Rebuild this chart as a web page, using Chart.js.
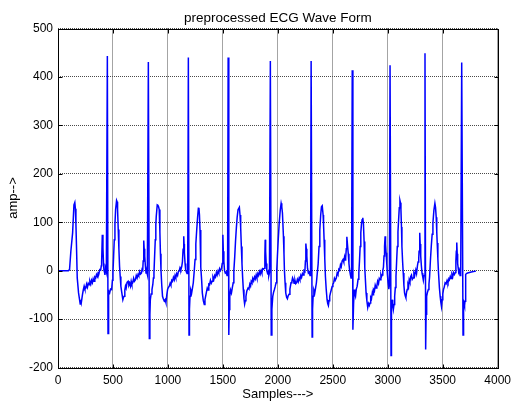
<!DOCTYPE html>
<html>
<head>
<meta charset="utf-8">
<script src="https://cdn.jsdelivr.net/npm/chart.js@4"></script>
<style>
  html, body { margin: 0; padding: 0; background: #ffffff; }
  canvas { display: block; }
</style>
</head>
<body>
<canvas id="ecg" width="517" height="406"></canvas>
<script>
// tick labels
const xTickValues = [0, 500, 1000, 1500, 2000, 2500, 3000, 3500, 4000];
const yTickValues = [-200, -100, 0, 100, 200, 300, 400, 500];

// [sample, amplitude], one array per beat
const leadIn = [[0,0],[95,0],[105,2],[117,40],[133,78],[145,136],[153,141],[158,128],[163,97],[169,43],[175,-15],[187,-46],[202,-69],[207,-60],[212,-66],[223,-49],[230,-40],[238,-32],[245,-38],[253,-36],[260,-28],[268,-34],[275,-26],[283,-29],[290,-22],[298,-28],[305,-20],[313,-25],[320,-17],[328,-22],[335,-13],[343,-15],[350,-8],[358,-12],[365,-4],[373,-5],[380,2],[388,1],[394,10],[397,18],[403,74],[409,47],[414,15],[418,1],[424,-4],[427,-9],[433,5],[440,-2]];
const beat1 = [[449,443],[455,-130],[458,-53],[463,-42],[470,-46],[478,-38],[488,-39],[495,-20],[500,-5],[506,30],[512,64],[518,95],[524,126],[533,145],[538,142],[542,126],[548,85],[554,45],[560,9],[566,-12],[572,-32],[580,-45],[590,-60],[596,-55],[602,-53],[608,-40],[614,-32],[620,-36],[628,-24],[638,-22],[645,-30],[652,-26],[659,-32],[666,-22],[672,-28],[680,-25],[688,-16],[695,-22],[704,-19],[712,-10],[720,-15],[728,-8],[735,-11],[742,-2],[750,-7],[759,-5],[765,3],[771,1],[775,20],[780,62],[784,45],[789,30],[795,10],[801,-5],[807,-2],[813,-8]];
const beat2 = [[822,431],[831,-140],[836,-90],[840,-60],[847,-48],[855,-39],[863,-28],[868,-15],[873,-5],[879,30],[885,64],[890,95],[894,112],[903,136],[909,135],[915,132],[921,126],[927,80],[932,35],[937,1],[944,-30],[951,-53],[958,-58],[967,-63],[975,-60],[982,-66],[990,-50],[997,-39],[1004,-35],[1012,-32],[1020,-26],[1027,-30],[1035,-20],[1042,-22],[1050,-14],[1058,-19],[1065,-10],[1072,-15],[1080,-6],[1088,-10],[1095,-2],[1102,-1],[1110,6],[1118,2],[1126,9],[1132,18],[1138,44],[1144,71],[1147,55],[1150,37],[1156,15],[1162,1],[1168,-3],[1174,-6],[1180,-2]];
const beat3 = [[1186,440],[1192,-133],[1196,-80],[1201,-53],[1208,-40],[1216,-46],[1224,-35],[1231,-25],[1239,-2],[1247,23],[1254,55],[1262,84],[1270,110],[1277,129],[1282,130],[1287,115],[1292,84],[1297,45],[1301,7],[1307,-20],[1313,-46],[1322,-62],[1331,-70],[1337,-60],[1343,-53],[1350,-45],[1358,-36],[1365,-40],[1372,-28],[1379,-29],[1387,-20],[1395,-26],[1403,-22],[1410,-13],[1418,-18],[1426,-10],[1433,-13],[1441,-4],[1448,-9],[1456,-1],[1463,-5],[1470,4],[1478,0],[1488,5],[1494,15],[1500,74],[1504,40],[1509,20],[1515,0],[1522,-5],[1530,-3],[1538,-10],[1543,-4]];
const beat4 = [[1548,440],[1554,-133],[1558,-80],[1563,-53],[1570,-40],[1578,-46],[1586,-35],[1594,-25],[1600,0],[1608,29],[1615,60],[1623,89],[1630,110],[1638,126],[1650,131],[1656,115],[1662,89],[1668,50],[1674,14],[1680,-15],[1686,-39],[1692,-58],[1698,-69],[1704,-62],[1710,-53],[1718,-42],[1729,-36],[1737,-38],[1745,-28],[1752,-32],[1758,-22],[1765,-25],[1772,-16],[1780,-21],[1788,-13],[1795,-17],[1803,-9],[1810,-15],[1818,-6],[1825,-10],[1833,-2],[1840,-7],[1848,0],[1855,-5],[1862,4],[1870,3],[1879,5],[1882,30],[1885,64],[1889,40],[1894,15],[1900,0],[1906,-5],[1912,-2],[1918,-10],[1924,-4]];
const beat5 = [[1932,433],[1940,-133],[1946,-80],[1954,-53],[1962,-44],[1969,-39],[1977,-32],[1984,-25],[1990,0],[1996,29],[2004,65],[2012,96],[2022,125],[2030,139],[2036,132],[2042,119],[2051,71],[2056,35],[2060,1],[2066,-25],[2072,-46],[2080,-55],[2087,-58],[2094,-52],[2102,-49],[2110,-38],[2120,-25],[2128,-22],[2134,-15],[2141,-19],[2148,-26],[2156,-20],[2163,-27],[2171,-25],[2178,-18],[2186,-23],[2194,-15],[2201,-19],[2209,-10],[2216,-14],[2224,-6],[2231,-9],[2238,0],[2246,-2],[2251,20],[2255,56],[2259,45],[2264,30],[2270,5],[2278,-5],[2286,-3],[2293,-10],[2298,-4]];
const beat6 = [[2303,433],[2312,-137],[2316,-80],[2321,-53],[2328,-40],[2336,-46],[2344,-35],[2351,-25],[2359,-5],[2367,14],[2375,50],[2382,84],[2390,115],[2397,132],[2404,134],[2412,115],[2416,95],[2421,64],[2427,25],[2433,-12],[2440,-38],[2448,-60],[2454,-68],[2460,-72],[2466,-62],[2472,-53],[2480,-45],[2487,-39],[2494,-33],[2501,-28],[2508,-25],[2515,-16],[2522,-20],[2532,-15],[2540,-5],[2547,-8],[2555,3],[2562,1],[2570,12],[2577,8],[2585,20],[2593,23],[2600,18],[2607,28],[2612,22],[2617,26],[2623,45],[2628,70],[2635,50],[2641,35],[2647,15],[2653,1],[2660,-8],[2666,-15],[2671,-5]];
const beat7 = [[2677,414],[2683,-122],[2689,-70],[2695,-39],[2701,-48],[2707,-53],[2714,-38],[2722,-32],[2730,-18],[2737,-5],[2743,20],[2749,50],[2755,78],[2761,96],[2767,105],[2773,109],[2779,96],[2785,60],[2791,7],[2797,-20],[2803,-46],[2810,-62],[2818,-76],[2825,-68],[2832,-72],[2839,-67],[2845,-55],[2852,-58],[2860,-45],[2866,-50],[2871,-39],[2879,-42],[2886,-30],[2894,-36],[2901,-32],[2908,-22],[2916,-27],[2923,-16],[2931,-19],[2938,-8],[2944,-12],[2949,-9],[2955,0],[2961,7],[2966,30],[2971,50],[2976,71],[2980,55],[2985,37],[2991,15],[2997,-8],[3003,-25],[3010,-38],[3015,-30]];
const beat8 = [[3021,424],[3030,-175],[3034,-80],[3039,-60],[3045,-70],[3051,-80],[3057,-70],[3063,-53],[3069,-35],[3075,-12],[3081,20],[3087,50],[3093,80],[3099,105],[3105,130],[3111,145],[3116,140],[3120,126],[3125,90],[3129,50],[3135,20],[3141,-5],[3147,-30],[3153,-46],[3159,-52],[3165,-56],[3171,-45],[3177,-39],[3184,-28],[3190,-32],[3195,-19],[3202,-24],[3209,-12],[3216,-9],[3223,-18],[3231,-15],[3238,-5],[3245,-10],[3255,1],[3262,-6],[3270,10],[3276,18],[3282,25],[3285,40],[3291,78],[3295,55],[3300,30],[3306,10],[3312,-5],[3318,-12],[3324,-20],[3330,-10]];
const beat9 = [[3339,449],[3345,-163],[3349,-90],[3354,-53],[3361,-45],[3369,-39],[3375,-28],[3381,-12],[3388,20],[3396,50],[3404,75],[3411,98],[3420,125],[3429,139],[3435,130],[3441,110],[3446,80],[3450,57],[3456,25],[3462,-5],[3470,-35],[3477,-53],[3483,-65],[3489,-74],[3495,-60],[3501,-48],[3507,-39],[3514,-34],[3522,-25],[3531,-27],[3540,-20],[3548,-25],[3556,-17],[3561,-19],[3569,-12],[3576,-16],[3584,-8],[3591,-13],[3598,-4],[3606,-8],[3615,-4],[3620,20],[3624,40],[3628,58],[3632,35],[3636,15],[3640,7],[3646,-3],[3652,0],[3658,-10],[3664,-8]];
const beat10 = [[3673,430],[3685,-133],[3690,-74],[3694,-67],[3699,-72],[3703,-63],[3709,-8],[3716,-6],[3727,-5],[3760,-3],[3802,-1]];

const ecgSegments = [leadIn, beat1, beat2, beat3, beat4, beat5, beat6, beat7, beat8, beat9, beat10];

const FONT = "'Liberation Sans', Arial, Helvetica, sans-serif";

// MATLAB style box with inward ticks on all four sides
const matlabBox = {
    id: 'matlabBox',
    afterDraw(chart) {
        const { ctx, chartArea: a, scales } = chart;
        const L = Math.round(a.left) + 0.5;
        const R = Math.round(a.right) + 0.5;
        const T = Math.round(a.top) + 0.5;
        const B = Math.round(a.bottom) + 0.5;
        const len = 4;
        ctx.save();
        ctx.strokeStyle = '#000000';
        ctx.lineWidth = 1;
        ctx.beginPath();
        scales.x.ticks.forEach((t) => {
            const px = Math.round(scales.x.getPixelForValue(t.value)) + 0.5;
            ctx.moveTo(px, B); ctx.lineTo(px, B - len);
            ctx.moveTo(px, T); ctx.lineTo(px, T + len);
        });
        scales.y.ticks.forEach((t) => {
            const py = Math.round(scales.y.getPixelForValue(t.value)) + 0.5;
            ctx.moveTo(L, py); ctx.lineTo(L + len, py);
            ctx.moveTo(R, py); ctx.lineTo(R - len, py);
        });
        ctx.stroke();
        ctx.strokeRect(L, T, R - L, B - T);
        ctx.restore();
    },
};

new Chart(document.getElementById('ecg'), {
    type: 'line',
    data: {
        datasets: [{
            data: ecgSegments.flat().map(([s, v]) => ({ x: s, y: v })),
            borderColor: '#0000ff',
            borderWidth: 1.5,
            pointRadius: 0,
            tension: 0,
            fill: false,
        }],
    },
    options: {
        responsive: false,
        animation: false,
        events: [],
        layout: { padding: { left: 0, right: 15, top: 0, bottom: 0 } },
        plugins: {
            legend: { display: false },
            tooltip: { enabled: false },
            title: {
                display: true,
                fullSize: false,
                text: 'preprocessed ECG Wave Form',
                color: '#000000',
                font: { family: FONT, size: 13.5, weight: 'normal' },
                padding: { top: 10, bottom: 2.3 },
            },
        },
        scales: {
            x: {
                type: 'linear',
                min: 0,
                max: 4000,
                afterBuildTicks: (s) => { s.ticks = xTickValues.map((v) => ({ value: v })); },
                afterFit: (s) => { s.height = 38.5; },
                ticks: {
                    color: '#000000',
                    font: { family: FONT, size: 12 },
                    padding: 6,
                    maxRotation: 0,
                    autoSkip: false,
                    callback: (v) => String(v),
                },
                grid: { color: '#4a4a4a', lineWidth: 1, drawTicks: false },
                border: { display: false, dash: [1, 1] },
                title: {
                    display: true,
                    text: 'Samples--->',
                    color: '#000000',
                    font: { family: FONT, size: 13 },
                    padding: { top: 0, bottom: 4 },
                },
            },
            y: {
                type: 'linear',
                min: -200,
                max: 500,
                afterBuildTicks: (s) => { s.ticks = yTickValues.map((v) => ({ value: v })); },
                afterFit: (s) => { s.width = 58; },
                ticks: {
                    color: '#000000',
                    font: { family: FONT, size: 12 },
                    padding: 5,
                    autoSkip: false,
                    callback: (v) => String(v),
                },
                grid: { color: '#4a4a4a', lineWidth: 1, drawTicks: false },
                border: { display: false, dash: [1, 1] },
                title: {
                    display: true,
                    text: 'amp-->',
                    color: '#000000',
                    font: { family: FONT, size: 13 },
                    padding: { top: 6, bottom: 0 },
                },
            },
        },
    },
    plugins: [matlabBox],
});
</script>
</body>
</html>
